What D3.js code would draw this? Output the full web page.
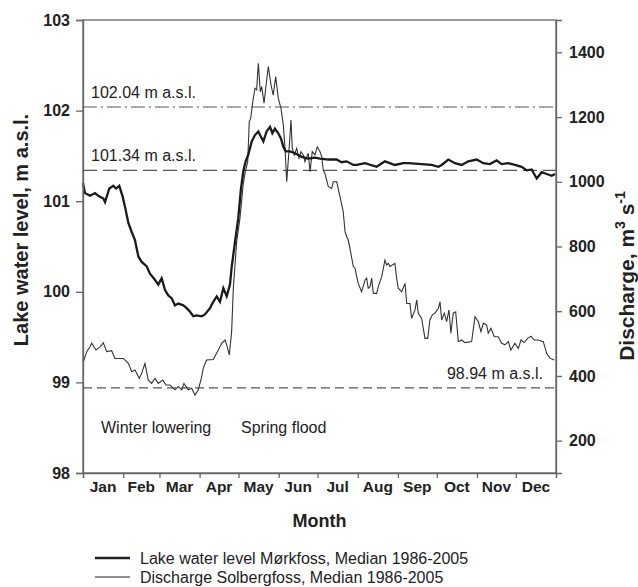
<!DOCTYPE html>
<html>
<head>
<meta charset="utf-8">
<script src="https://cdn.jsdelivr.net/npm/d3@7"></script>
<style>
  body { margin: 0; background: #fff; }
  svg { display: block; font-family: Arial, "Liberation Sans", sans-serif; }
  .axis path, .axis line { stroke: #666; stroke-width: 1.3; }
  .axis text { font-weight: bold; font-size: 16px; fill: #222; }
</style>
</head>
<body>
<svg id="chart" width="638" height="587"></svg>
<script>
// Data //
const monthNames = ['Jan', 'Feb', 'Mar', 'Apr', 'May', 'Jun', 'Jul', 'Aug', 'Sep', 'Oct', 'Nov', 'Dec']
const monthStarts = [0, 31, 59, 90, 120, 151, 181, 212, 243, 273, 304, 334, 365]
const levelTicks = [98, 99, 100, 101, 102, 103]
const dischargeTicks = [200, 400, 600, 800, 1000, 1200, 1400]

// lake level, Mørkfoss (day of year, m a.s.l.)
const lakeDay = [0, 1.5, 5.4, 9.3, 11.8, 15.7, 17, 20.3, 23.4, 25.5, 28, 30.6, 32.4, 35, 37.6, 40.1, 42.7,
    45.3, 49.2, 51.7, 55.6, 58.1, 60.7, 63.3, 65.8, 68.4, 71, 73.5, 77.4, 80, 82.6, 85.1, 87.7, 91.6,
    94.1, 98, 100.5, 103.2, 105.7, 108.3, 110.9, 113.4, 114.7, 117.3, 119.8, 121.9, 123.7, 125.5, 127.5,
    130.2, 132.7, 135.3, 136.6, 139.2, 141.7, 144.3, 146.1, 148.1, 150.7, 152.8, 154.6, 156.4, 159.7,
    163.6, 168.8, 173.8, 179, 182.9, 189.3, 195.7, 199.5, 203.4, 208.6, 211.2, 217.6, 226.6, 233, 240.7,
    247.1, 251, 261.3, 269, 274.2, 276.8, 281.9, 287, 292.2, 297.3, 303.8, 308.9, 314, 319.2, 323, 328.2,
    333.3, 338.5, 342.4, 346.2, 350.1, 354, 357.8, 361.7, 364.2]
const lakeLevel = [101.20, 101.09, 101.06, 101.09, 101.06, 101.03, 100.99, 101.14, 101.17, 101.14, 101.17,
    101.05, 100.94, 100.76, 100.66, 100.57, 100.39, 100.33, 100.28, 100.20, 100.13, 100.08, 100.15, 100.02,
    99.96, 99.93, 99.85, 99.87, 99.85, 99.82, 99.78, 99.73, 99.74, 99.73, 99.75, 99.82, 99.89, 99.95, 99.89,
    100.04, 99.95, 100.08, 100.27, 100.55, 100.81, 101.14, 101.33, 101.44, 101.51, 101.66, 101.73, 101.77,
    101.73, 101.66, 101.77, 101.82, 101.75, 101.80, 101.75, 101.69, 101.60, 101.55, 101.55, 101.53, 101.49,
    101.47, 101.48, 101.47, 101.46, 101.46, 101.43, 101.44, 101.40, 101.40, 101.42, 101.38, 101.44, 101.40,
    101.42, 101.42, 101.41, 101.40, 101.38, 101.40, 101.46, 101.42, 101.40, 101.44, 101.46, 101.42, 101.41,
    101.45, 101.41, 101.42, 101.40, 101.38, 101.34, 101.35, 101.25, 101.32, 101.30, 101.28, 101.30]

// discharge, Solbergfoss (day of year, m3/s)
const flowDay = [0, 2.9, 5.4, 6.7, 10, 13.1, 15.7, 18.3, 22.1, 24.7, 31.1, 35, 37.6, 40.1, 43.4, 45.3, 47.8,
    50.4, 53, 55.6, 58.1, 61.5, 64, 67.1, 71, 73.5, 76.2, 77.9, 81.2, 83.9, 86.4, 89, 91.6, 92.8, 95.4,
    100.5, 104.4, 107, 109.6, 110.9, 112.9, 114.7, 116, 118.6, 121.1, 123.7, 125, 127.1, 128.3, 129.4,
    131.4, 132.7, 134, 135.3, 136.8, 137.9, 139.7, 141, 143, 145.1, 146.8, 148.7, 150.7, 152.8, 154.6,
    155.9, 157.2, 158.9, 160.5, 161.5, 163, 164.9, 166.7, 168.2, 170, 171.3, 173.8, 175.2, 176.9, 179,
    180.8, 182.9, 184.2, 185.4, 186.7, 189.3, 191.9, 193.1, 195.8, 198.3, 200.8, 202.2, 203.5, 204.7, 206,
    208.6, 209.9, 211.2, 212.4, 215, 217.6, 218.9, 220.1, 221.5, 222.8, 224, 226.6, 227.9, 230.5, 233,
    234.3, 235.6, 236.9, 238.7, 240.7, 242, 243.3, 245.9, 248.5, 249.8, 252.3, 253.6, 256.2, 257.5, 258.7,
    261.3, 263.9, 266, 267.7, 269.5, 271.6, 274.2, 275.5, 276.8, 278.8, 280.6, 282.4, 283.9, 285.7, 287.6,
    289.6, 292.2, 294.8, 299.9, 302.5, 305, 307.1, 308.9, 311.5, 312.7, 314.8, 317.4, 320.4, 323.1, 325.6,
    328.2, 330.2, 333.3, 335.9, 338, 340.5, 343.1, 345.7, 348.2, 351.3, 355.2, 357.8, 360.3, 363.7]
const flowValue = [440, 475, 490, 501, 480, 490, 502, 475, 478, 454, 454, 439, 413, 418, 393, 408, 439,
    387, 377, 393, 377, 387, 372, 372, 357, 367, 357, 377, 357, 362, 341, 357, 398, 424, 449,
    451, 480, 501, 511, 496, 465, 537, 671, 815, 887, 995, 1026, 1062, 1186, 1196,
    1258, 1289, 1284, 1366, 1278, 1294, 1243, 1289, 1356, 1299, 1268, 1325, 1258, 1227, 1175,
    1103, 1000, 1093, 1191, 1103, 1083, 1103, 1073, 1093, 1083, 1062, 1088, 1031, 1093, 1083,
    1108, 1093, 1078, 1036, 1026, 985, 980, 1000, 1000, 954, 908, 846, 830, 820, 794,
    738, 733, 707, 686, 660, 696, 702, 671, 676, 702, 655, 655, 676, 707, 758,
    743, 748, 738, 743, 748, 702, 671, 660, 686, 624, 624, 578, 604, 635, 594,
    578, 516, 516, 573, 588, 594, 609, 629, 573, 594, 568, 604, 532, 594, 598,
    506, 511, 503, 506, 583, 568, 537, 563, 557, 532, 547, 521, 521, 501, 496,
    506, 480, 501, 485, 511, 503, 516, 523, 511, 511, 506, 470, 455, 449]

const refLevels = [102.04, 101.34, 98.94]
const refLabels = ['102.04 m a.s.l.', '101.34 m a.s.l.', '98.94 m a.s.l.']
const seriesNames = ['Lake water level Mørkfoss, Median 1986-2005', 'Discharge Solbergfoss, Median 1986-2005']

// Scales //
const plot = { left: 83, right: 556, top: 20, bottom: 473 }
const x = d3.scaleLinear().domain([0, 365]).range([plot.left, plot.right])
const yLevel = d3.scaleLinear().domain([98, 103]).range([plot.bottom, plot.top])
const yFlow = d3.scaleLinear().domain([100, 1500]).range([plot.bottom, plot.top])

const svg = d3.select('#chart')

// Reference lines //
const refDash = ['14,4,2,4', '14,6', '9,5']
svg.selectAll('.ref')
    .data(refLevels)
    .enter()
    .append('line')
        .attr('class', 'ref')
        .attr('x1', plot.left)
        .attr('x2', plot.right)
        .attr('y1', d => yLevel(d))
        .attr('y2', d => yLevel(d))
        .attr('stroke', '#555')
        .attr('stroke-width', 1.2)
        .attr('stroke-dasharray', (d, i) => refDash[i])

svg.selectAll('.ref-label')
    .data(refLabels)
    .enter()
    .append('text')
        .attr('x', (d, i) => i === 2 ? 543 : 91)
        .attr('y', (d, i) => yLevel(refLevels[i]) - 9)
        .attr('text-anchor', (d, i) => i === 2 ? 'end' : 'start')
        .attr('font-size', 16)
        .attr('fill', '#222')
        .text(d => d)

// Lines //
const flowLine = d3.line()
    .x((d, i) => x(flowDay[i]))
    .y(d => yFlow(d))

const lakeLine = d3.line()
    .x((d, i) => x(lakeDay[i]))
    .y(d => yLevel(d))

svg.append('path')
    .datum(flowValue)
    .attr('d', flowLine)
    .attr('fill', 'none')
    .attr('stroke', '#333')
    .attr('stroke-width', 1.1)

svg.append('path')
    .datum(lakeLevel)
    .attr('d', lakeLine)
    .attr('fill', 'none')
    .attr('stroke', '#1a1a1a')
    .attr('stroke-width', 2.3)

// Frame and axes //
svg.append('rect')
    .attr('x', plot.left)
    .attr('y', plot.top)
    .attr('width', plot.right - plot.left)
    .attr('height', plot.bottom - plot.top)
    .attr('fill', 'none')
    .attr('stroke', '#666')
    .attr('stroke-width', 1.3)

svg.append('g')
    .attr('class', 'axis')
    .attr('transform', `translate(${plot.left},0)`)
    .call(d3.axisLeft(yLevel).tickValues(levelTicks).tickSize(7).tickPadding(6).tickFormat(d3.format('d')))

svg.append('g')
    .attr('class', 'axis')
    .attr('transform', `translate(${plot.right},0)`)
    .call(d3.axisRight(yFlow).tickValues(dischargeTicks).tickSize(6).tickPadding(7).tickFormat(d3.format('d')))

svg.append('g')
    .attr('class', 'axis')
    .attr('transform', `translate(0,${plot.bottom})`)
    .call(d3.axisBottom(x).tickValues(monthStarts).tickSize(5).tickFormat(''))

svg.selectAll('.month')
    .data(monthNames)
    .enter()
    .append('text')
        .attr('class', 'month')
        .attr('x', (d, i) => x((monthStarts[i] + monthStarts[i + 1]) / 2))
        .attr('y', 492)
        .attr('text-anchor', 'middle')
        .attr('font-size', 15.5)
        .attr('font-weight', 'bold')
        .attr('fill', '#222')
        .text(d => d)

// Titles //
svg.append('text')
    .attr('x', (plot.left + plot.right) / 2)
    .attr('y', 527)
    .attr('text-anchor', 'middle')
    .attr('font-size', 18)
    .attr('font-weight', 'bold')
    .attr('fill', '#222')
    .text('Month')

svg.append('text')
    .attr('transform', 'translate(28,230) rotate(-90)')
    .attr('text-anchor', 'middle')
    .attr('font-size', 20)
    .attr('font-weight', 'bold')
    .attr('fill', '#222')
    .text('Lake water level, m a.s.l.')

const rightTitle = svg.append('text')
    .attr('transform', 'translate(634,276) rotate(-90)')
    .attr('text-anchor', 'middle')
    .attr('font-size', 21)
    .attr('font-weight', 'bold')
    .attr('fill', '#222')
rightTitle.append('tspan').text('Discharge, m')
rightTitle.append('tspan').attr('dy', -9).attr('font-size', 14).text('3')
rightTitle.append('tspan').attr('dy', 9).text(' s')
rightTitle.append('tspan').attr('dy', -9).attr('font-size', 14).text('-1')

// Annotations //
svg.append('text').attr('x', 101).attr('y', 433).attr('font-size', 16).attr('fill', '#222').text('Winter lowering')
svg.append('text').attr('x', 241).attr('y', 433).attr('font-size', 16).attr('fill', '#222').text('Spring flood')

// Legend //
const legend = svg.selectAll('.legend')
    .data(seriesNames)
    .enter()
    .append('g')
        .attr('transform', (d, i) => `translate(95,${558 + i * 19})`)

legend.append('line')
    .attr('x1', 0)
    .attr('x2', 35)
    .attr('stroke', '#222')
    .attr('stroke-width', (d, i) => i === 0 ? 2.3 : 1.1)

legend.append('text')
    .attr('x', 45)
    .attr('y', 6)
    .attr('font-size', 16)
    .attr('fill', '#222')
    .text(d => d)
</script>
</body>
</html>
